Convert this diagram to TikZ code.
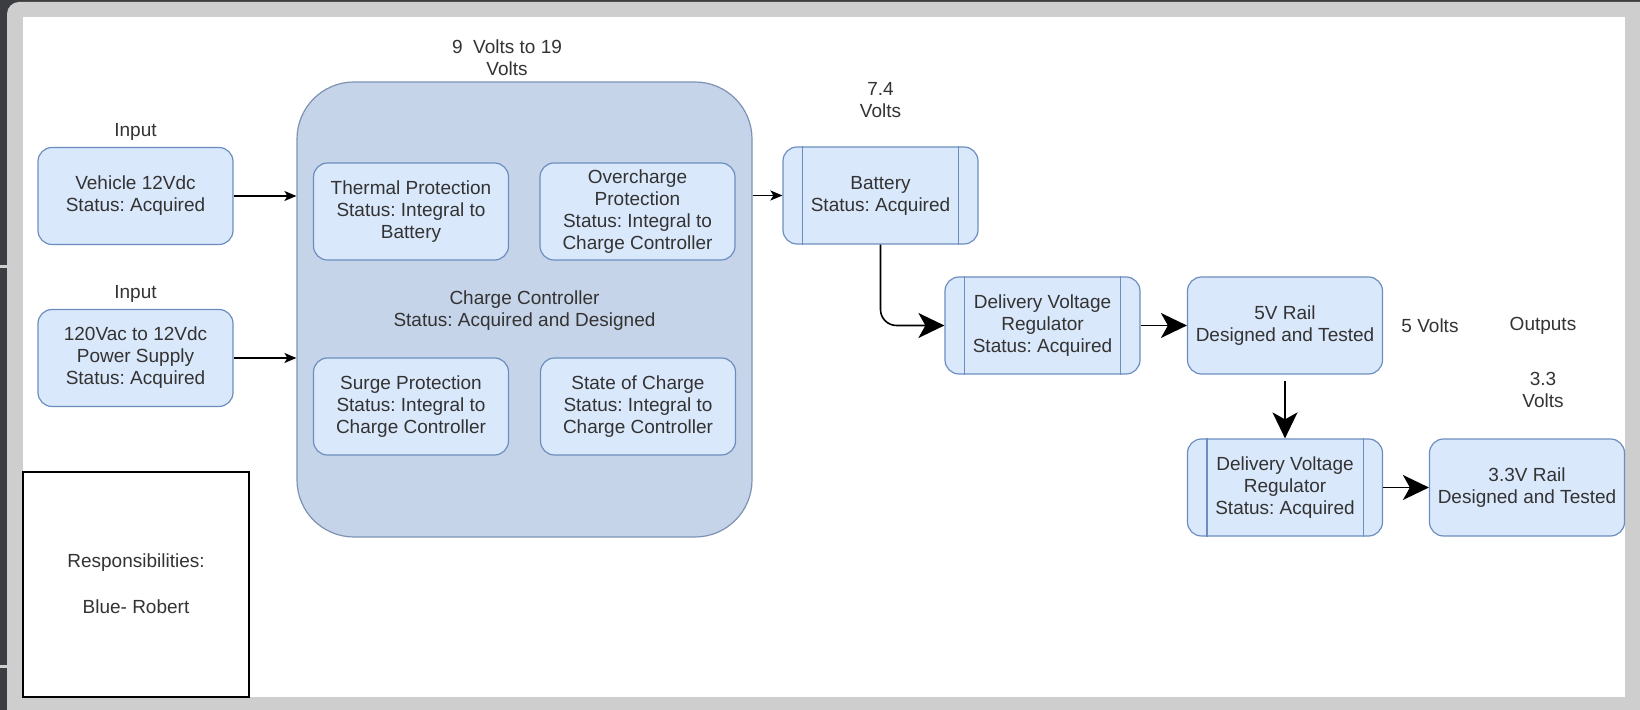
\documentclass[tikz,border=0pt]{standalone}
\usepackage{fontspec}
\setmainfont{Liberation Sans}
\frenchspacing
\usetikzlibrary{arrows.meta,calc}
\definecolor{frameDark}{HTML}{3C3D40}
\definecolor{frameGrey}{HTML}{CECECE}
\definecolor{boxFill}{HTML}{DAE8FC}
\definecolor{boxLine}{HTML}{6C8EBF}
\definecolor{ccFill}{HTML}{C6D4E9}
\definecolor{ccLine}{HTML}{7D92B5}
\definecolor{ink}{HTML}{333333}
\begin{document}
\begin{tikzpicture}[x=0.5pt,y=-0.5pt,
  every node/.style={font=\fontsize{9.5}{11}\selectfont, text=ink, align=center, inner sep=0pt},
  blockbox/.style={draw=boxLine, fill=boxFill, line width=0.6pt, rounded corners=7pt,
    minimum width=97.5pt, minimum height=48.5pt},
  ccbox/.style={draw=ccLine, fill=ccFill, line width=0.6pt, rounded corners=28.5pt,
    minimum width=227.5pt, minimum height=227.5pt},
  plainlabel/.style={},
  smallarrow/.style={draw=black, line width=0.8pt, -{Stealth[length=6pt,width=5pt,inset=1.5pt]}},
  bigarrow/.style={draw=black, line width=0.8pt, -{Stealth[length=13pt,width=12.5pt,inset=3.5pt]}},
  sideline/.style={draw=boxLine, line width=0.6pt}]
  \useasboundingbox (0,0) rectangle (1640,710);
  % window frame
  \fill[frameDark] (0,0) rectangle (1640,710);
  \fill[frameGrey, rounded corners=6pt] (7,2) rectangle (1660,730);
  \fill[frameGrey] (0,265) rectangle (7,268);
  \fill[frameGrey] (0,665) rectangle (7,668);
  \fill[white] (23,17) rectangle (1625,697);

  % input blocks
  \node[plainlabel] (in1) at (135.5,132) {Input};
  \node[blockbox] (veh) at (135.5,196) {Vehicle 12Vdc\\Status: Acquired};
  \node[plainlabel] (in2) at (135.5,294) {Input};
  \node[blockbox] (psu) at (135.5,358) {120Vac to 12Vdc\\Power Supply\\Status: Acquired};

  % charge controller with its protection functions
  \node[plainlabel] (ccv) at (507,58) {9\ \ Volts to 19\\Volts};
  \node[ccbox] (cc) at (524.5,309.5) {};
  \node (cctext) at (524.5,310.5) {Charge Controller\\Status: Acquired and Designed};
  \node[blockbox] (therm) at (411,211.5) {Thermal Protection\\Status: Integral to\\Battery};
  \node[blockbox] (over) at (637.5,211.5) {Overcharge\\Protection\\Status: Integral to\\Charge Controller};
  \node[blockbox] (surge) at (411,406.5) {Surge Protection\\Status: Integral to\\Charge Controller};
  \node[blockbox] (soc) at (638,406.5) {State of Charge\\Status: Integral to\\Charge Controller};

  % battery and regulators
  \node[plainlabel] (batv) at (880.5,100) {7.4\\Volts};
  \node[blockbox] (bat) at (880.5,195.5) {Battery\\Status: Acquired};
  \node[blockbox] (dvr1) at (1042.5,325.5) {Delivery Voltage\\Regulator\\Status: Acquired};
  \node[blockbox] (rail5) at (1285,325.5) {5V Rail\\Designed and Tested};
  \node[blockbox] (dvr2) at (1285,487.5) {Delivery Voltage\\Regulator\\Status: Acquired};
  \node[blockbox] (rail33) at (1527,487.5) {3.3V Rail\\Designed and Tested};
  \foreach \n in {bat,dvr1,dvr2}{
    \draw[sideline] ([xshift=10pt]\n.north west) -- ([xshift=10pt]\n.south west);
    \draw[sideline] ([xshift=-10pt]\n.north east) -- ([xshift=-10pt]\n.south east);
  }

  % output labels
  \node[plainlabel] (v5) at (1430,326) {5 Volts};
  \node[plainlabel] (outs) at (1543,326) {Outputs};
  \node[plainlabel] (v33) at (1543,390) {3.3\\Volts};

  % responsibilities legend
  \node[draw=black, line width=0.6pt, fill=white, minimum width=113pt, minimum height=112.5pt] (resp) at (136,584.5) {};
  \node (resptext) at (136,584) {Responsibilities:\\[12pt]Blue- Robert};

  % connectors
  \draw[smallarrow] (veh.east) -- (veh.east -| cc.west);
  \draw[smallarrow] (psu.east) -- (psu.east -| cc.west);
  \draw[smallarrow] (bat.west -| cc.east) -- (bat.west);
  \draw[bigarrow, rounded corners=8pt] (bat.south) |- (dvr1.west);
  \draw[bigarrow] (dvr1.east) -- (rail5.west);
  \draw[bigarrow] ([yshift=-3pt]rail5.south) -- (dvr2.north);
  \draw[bigarrow] (dvr2.east) -- (rail33.west);
\end{tikzpicture}
\end{document}
